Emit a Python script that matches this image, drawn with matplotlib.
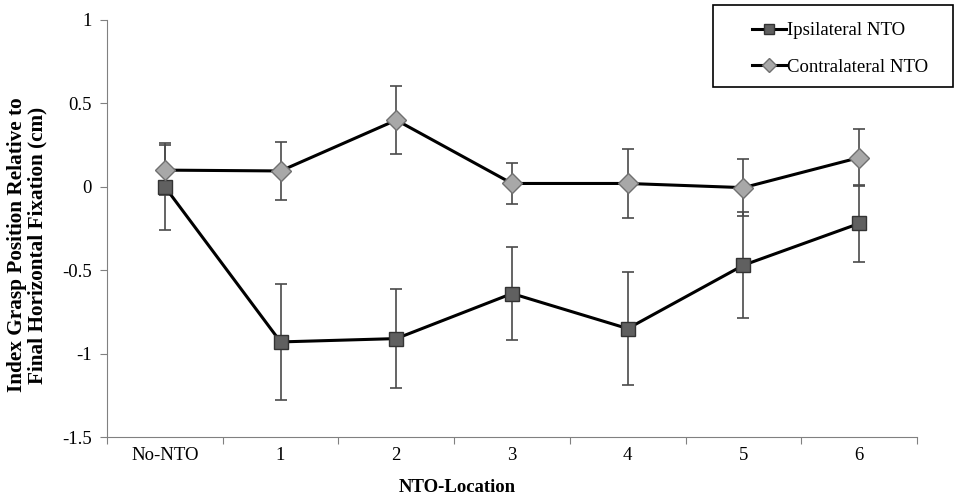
import matplotlib
matplotlib.use("Agg")
import matplotlib.pyplot as plt
from matplotlib.patches import Rectangle

plt.rcParams['font.family'] = ['Liberation Serif', 'DejaVu Serif']

categories = ["No-NTO", "1", "2", "3", "4", "5", "6"]
ipsi = [0.0, -0.93, -0.91, -0.64, -0.85, -0.47, -0.22]
ipsi_err = [0.26, 0.35, 0.295, 0.28, 0.34, 0.316, 0.23]
contra = [0.10, 0.095, 0.40, 0.02, 0.02, -0.005, 0.175]
contra_err = [0.15, 0.175, 0.205, 0.125, 0.205, 0.17, 0.17]

W, H = 959, 497
fig = plt.figure(figsize=(W / 100, H / 100), dpi=100)
ax = fig.add_axes([107 / W, 1 - 437 / H, (917 - 107) / W, (437 - 20) / H])

x = list(range(len(categories)))
gray = '#4a4a4a'

ax.errorbar(x, ipsi, yerr=ipsi_err, fmt='none', ecolor=gray, elinewidth=1.2,
            capsize=4, capthick=1.2, zorder=2)
ax.errorbar(x, contra, yerr=contra_err, fmt='none', ecolor=gray, elinewidth=1.2,
            capsize=4, capthick=1.2, zorder=2)
ax.plot(x, ipsi, color='black', lw=2.2, marker='s', markersize=10,
        markerfacecolor='#606060', markeredgecolor='#333333', markeredgewidth=1,
        label='Ipsilateral NTO', zorder=3)
ax.plot(x, contra, color='black', lw=2.2, marker='D', markersize=10,
        markerfacecolor='#a8a8a8', markeredgecolor='#707070', markeredgewidth=1,
        label='Contralateral NTO', zorder=3)

ax.set_xlim(-0.5, len(categories) - 0.5)
ax.set_ylim(-1.5, 1)
ax.set_yticks([-1.5, -1, -0.5, 0, 0.5, 1])
ax.set_yticklabels(['-1.5', '-1', '-0.5', '0', '0.5', '1'])
ax.set_xticks([i - 0.5 for i in range(len(categories) + 1)])
ax.set_xticklabels([])
ax.set_xticks(x, minor=True)
ax.set_xticklabels(categories, minor=True)
ax.tick_params(axis='x', which='minor', length=0, pad=7, labelsize=13.5)
ax.tick_params(axis='x', which='major', length=5, color='#808080')
ax.tick_params(axis='y', length=5, color='#808080', labelsize=13.5, pad=6)

for s in ['top', 'right']:
    ax.spines[s].set_visible(False)
for s in ['left', 'bottom']:
    ax.spines[s].set_color('#808080')

fig.text(457 / W, 1 - 488 / H, 'NTO-Location', fontsize=13.5, fontweight='bold',
         ha='center', va='center')
fig.text(27 / W, 1 - 245 / H,
         'Index Grasp Position Relative to\nFinal Horizontal Fixation (cm)',
         fontsize=15.3, fontweight='bold', rotation=90, ha='center', va='center',
         multialignment='center', linespacing=1.05)

leg = fig.legend(loc='upper left', bbox_to_anchor=(752 / W, 1 - 22 / H),
                 frameon=False, fontsize=13.5, handlelength=1.8,
                 handletextpad=0.05, labelspacing=1.05, borderpad=0,
                 borderaxespad=0, markerscale=0.7)
fig.patches.append(Rectangle((713 / W, 1 - 87 / H), (953 - 713) / W, (87 - 5) / H,
                             transform=fig.transFigure, fill=False,
                             edgecolor='black', linewidth=1.2))

fig.savefig('out.png', dpi=100)
